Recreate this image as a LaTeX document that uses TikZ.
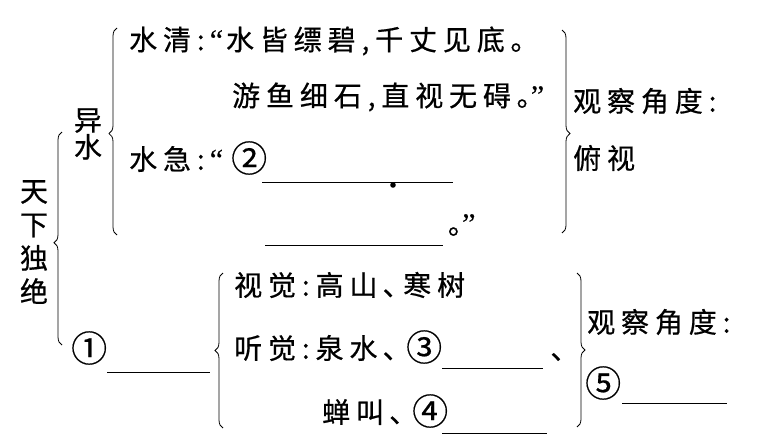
\documentclass[tikz,border=0pt]{standalone}
\usepackage{fontspec}
\setmainfont{Noto Sans CJK SC}
\newfontfamily\cjkf[LetterSpace=21,FakeBold=0.6]{Noto Sans CJK SC}
\newfontfamily\cjkc[FakeBold=0.4]{Noto Sans CJK SC}
\newfontfamily\qfont[FakeBold=0.4]{Liberation Serif}
\newcommand{\oqt}{\kern5pt{\qfont\fontsize{30}{30}\selectfont “}\kern3pt}
\newcommand{\cqt}{{\qfont\fontsize{30}{30}\selectfont ”}}
\newcommand{\tailfix}{\kern-5.9pt}
\usetikzlibrary{decorations.pathreplacing}
\begin{document}
\begin{tikzpicture}[x=1pt,y=-1pt,
  txt/.style={anchor=west,inner sep=0pt,font=\cjkf\fontsize{28}{31}\selectfont},
  circ/.style={anchor=west,inner sep=0pt,font=\cjkc\fontsize{36}{36}\selectfont},
  vtxt/.style={inner sep=0pt,align=center,font=\cjkf\fontsize{28}{#1}\selectfont},
  brc/.style={decorate,decoration={brace,amplitude=8pt,aspect=#1},line width=0.8pt},
  blank/.style={line width=1pt}]
\useasboundingbox[fill=white] (0,0) rectangle (766,447);

% left titles
\node[vtxt=33.5] (tx) at (34,242) {天\\下\\独\\绝};
\node[vtxt=27] (ys) at (88,134) {异\\水};

% braces
\coordinate (b1s) at (62,345); \coordinate (b1e) at (62,132);
\draw[brc=0.48] (b1s) -- (b1e);
\coordinate (b2s) at (117,235); \coordinate (b2e) at (117,28);
\draw[brc=0.49] (b2s) -- (b2e);
\coordinate (b3s) at (562,30); \coordinate (b3e) at (562,233);
\draw[brc=0.51] (b3s) -- (b3e);
\coordinate (b4s) at (223,428); \coordinate (b4e) at (223,273);
\draw[brc=0.5] (b4s) -- (b4e);
\coordinate (b5s) at (577,273); \coordinate (b5e) at (577,427);
\draw[brc=0.5] (b5s) -- (b5e);

% upper group
\node[txt] (r1) at (129,41) {水清:\oqt 水皆缥碧,千丈见底｡\tailfix};
\node[txt] (r2) at (232,97) {游鱼细石,直视无碍｡\cqt};
\node[txt] (r3) at (129,159) {水急:\oqt};
\node[circ] (c2) at (231,158) {②};
\coordinate (l2a) at (262,182); \coordinate (l2b) at (453,182);
\draw[blank] (l2a) -- (l2b);
\fill (393,185) circle (2.8pt);
\coordinate (l2c) at (265,245); \coordinate (l2d) at (443,245);
\draw[blank] (l2c) -- (l2d);
\node[txt] (r4) at (448,225) {｡\cqt};
\node[txt] (a1) at (573,101) {观察角度:\tailfix};
\node[txt] (a2) at (573,158) {俯视\tailfix};

% lower group
\node[circ] (c1) at (71,348) {①};
\coordinate (l1a) at (107,372); \coordinate (l1b) at (210,372);
\draw[blank] (l1a) -- (l1b);
\node[txt] (s1) at (234,285) {视觉:高山､寒树\tailfix};
\node[txt] (s2) at (234,348) {听觉:泉水､\tailfix};
\node[circ] (c3) at (406,347) {③};
\coordinate (l3a) at (442,368); \coordinate (l3b) at (543,368);
\draw[blank] (l3a) -- (l3b);
\node[txt] (dun) at (551,357) {､\tailfix};
\node[txt] (s3) at (322,412) {蝉叫､\tailfix};
\node[circ] (c4) at (412,411) {④};
\coordinate (l4a) at (442,433); \coordinate (l4b) at (547,433);
\draw[blank] (l4a) -- (l4b);
\node[txt] (a3) at (587,322) {观察角度:\tailfix};
\node[circ] (c5) at (585,383) {⑤};
\coordinate (l5a) at (622,403); \coordinate (l5b) at (727,403);
\draw[blank] (l5a) -- (l5b);
\end{tikzpicture}
\end{document}
